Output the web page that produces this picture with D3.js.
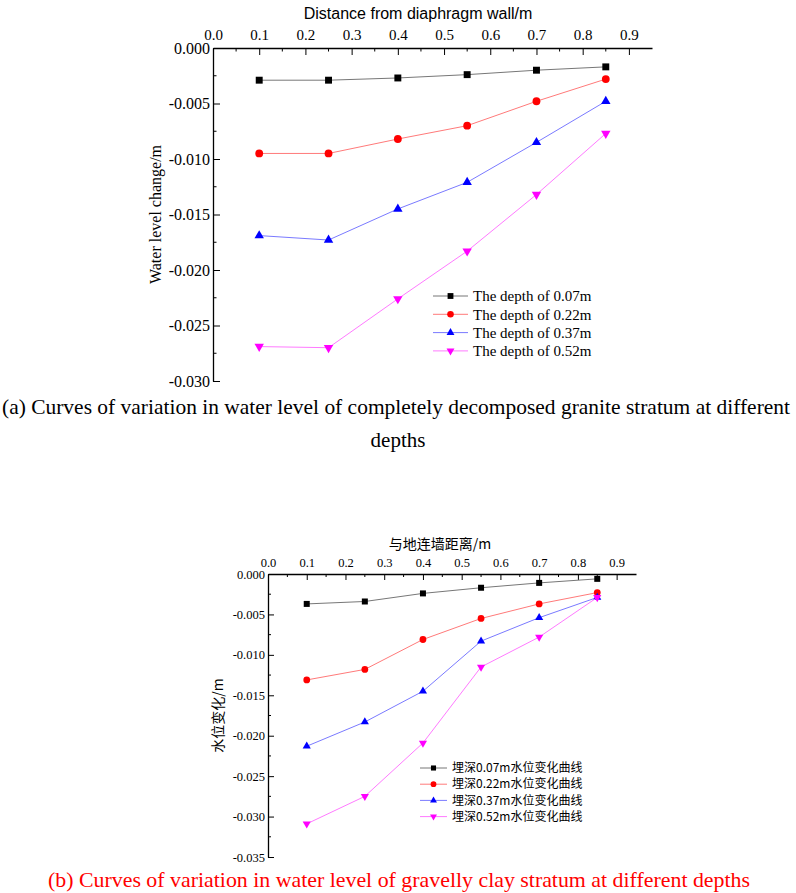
<!DOCTYPE html>
<html>
<head>
<meta charset="utf-8">
<script src="https://cdn.jsdelivr.net/npm/d3@7"></script>
<style>
  body { margin: 0; background: #fff; }
  svg { display: block; }
</style>
</head>
<body>
<div id="chart"></div>
<script>
// distances from the diaphragm wall (m), shared by both panels
const distance = [0.1, 0.25, 0.4, 0.55, 0.7, 0.85];

// (a) completely decomposed granite stratum
const graniteD007 = [-0.0029, -0.0029, -0.0027, -0.0024, -0.0020, -0.0017];
const graniteD022 = [-0.0095, -0.0095, -0.0082, -0.0070, -0.0048, -0.0028];
const graniteD037 = [-0.0169, -0.0173, -0.0145, -0.0121, -0.0085, -0.0048];
const graniteD052 = [-0.0269, -0.0270, -0.0226, -0.0183, -0.0132, -0.0077];
const graniteLegend = ["The depth of 0.07m", "The depth of 0.22m", "The depth of 0.37m", "The depth of 0.52m"];

// (b) gravelly clay stratum
const clayD007 = [-0.0037, -0.0034, -0.0024, -0.0017, -0.0011, -0.0006];
const clayD022 = [-0.0131, -0.0118, -0.0081, -0.0055, -0.0037, -0.0023];
const clayD037 = [-0.0213, -0.0183, -0.0145, -0.0083, -0.0054, -0.0029];
const clayD052 = [-0.0309, -0.0275, -0.0209, -0.0115, -0.0078, -0.0029];
const clayLegend = ["埋深0.07m水位变化曲线", "埋深0.22m水位变化曲线", "埋深0.37m水位变化曲线", "埋深0.52m水位变化曲线"];

const xTicks = [0, 0.1, 0.2, 0.3, 0.4, 0.5, 0.6, 0.7, 0.8, 0.9];
const graniteYTicks = [0, -0.005, -0.01, -0.015, -0.02, -0.025, -0.03];
const clayYTicks = [0, -0.005, -0.01, -0.015, -0.02, -0.025, -0.03, -0.035];

const colors = ["#000000", "#ff0000", "#0000ff", "#ff00ff"];
const lineColors = ["#777777", "#ff7a7a", "#7a7aff", "#ff7aff"];
const shapes = ["square", "circle", "up", "down"];

const serif = "'Liberation Serif', 'Times New Roman', serif";
const sans = "'Liberation Sans', Arial, sans-serif";
const cjk = "'Noto Sans CJK SC', sans-serif";

const svg = d3.select("#chart").append("svg")
    .attr("width", 796)
    .attr("height", 893);

// plain hyphen instead of the unicode minus d3 uses
const fmt3 = d => d3.format(".3f")(d).replace("\u2212", "-");

function marker(shape, size) {
    if (shape === "square") return d3.symbol(d3.symbolSquare, size)();
    if (shape === "circle") return d3.symbol(d3.symbolCircle, size)();
    return d3.symbol(d3.symbolTriangle, size * 0.8)();
}

function drawPanel(p) {
    const x = d3.scaleLinear().domain([0, 0.95]).range([p.left, p.right]);
    const y = d3.scaleLinear().domain([0, p.yMin]).range([p.top, p.bottom]);
    const g = svg.append("g");

    // top x axis, ticks pointing into the plot
    const xAxis = d3.axisTop(x).tickValues(xTicks).tickFormat(d3.format(".1f"))
        .tickSizeInner(-p.tick).tickSizeOuter(0).tickPadding(p.xPad);
    const gx = g.append("g").attr("transform", `translate(0,${p.top})`).call(xAxis);
    gx.selectAll("text").style("font-family", serif).style("font-size", p.tickFont + "px").attr("fill", "#000");
    gx.append("g").selectAll("line")
        .data(d3.range(0.05, 0.95, 0.1))
        .join("line")
        .attr("x1", d => x(d)).attr("x2", d => x(d))
        .attr("y1", 0).attr("y2", p.tick / 2)
        .attr("stroke", "#000");

    // left y axis
    const yAxis = d3.axisLeft(y).tickValues(p.yTicks).tickFormat(fmt3)
        .tickSizeInner(-p.tick).tickSizeOuter(0).tickPadding(3);
    const gy = g.append("g").attr("transform", `translate(${p.left},0)`).call(yAxis);
    gy.selectAll("text").style("font-family", serif).style("font-size", p.yTickFont + "px").attr("fill", "#000");
    gy.append("g").selectAll("line")
        .data(d3.range(-0.0025, p.yMin, -0.005))
        .join("line")
        .attr("y1", d => y(d)).attr("y2", d => y(d))
        .attr("x1", 0).attr("x2", p.tick / 2)
        .attr("stroke", "#000");
    g.selectAll(".domain").attr("stroke", "#000").attr("stroke-width", 1.3);
    g.selectAll(".tick line").attr("stroke", "#000");

    // axis titles
    g.append("text")
        .attr("x", p.xTitleX).attr("y", p.xTitleY)
        .attr("text-anchor", "middle")
        .style("font-family", p.xTitleFamily).style("font-size", p.titleFont + "px")
        .text(p.xTitle);
    g.append("text")
        .attr("transform", `translate(${p.yTitleX},${(p.top + p.bottom) / 2}) rotate(-90)`)
        .attr("text-anchor", "middle")
        .style("font-family", p.yTitleFamily).style("font-size", p.titleFont + "px")
        .text(p.yTitle);

    // series
    const line = d3.line().x(d => x(d[0])).y(d => y(d[1]));
    p.series.forEach((vals, i) => {
        const pts = distance.map((d, j) => [d, vals[j]]);
        g.append("path").datum(pts)
            .attr("d", line)
            .attr("fill", "none")
            .attr("stroke", lineColors[i])
            .attr("stroke-width", 1);
        g.append("g").selectAll("path")
            .data(pts)
            .join("path")
            .attr("d", marker(shapes[i], p.markSize))
            .attr("transform", d => `translate(${x(d[0])},${y(d[1])})` + (shapes[i] === "down" ? " rotate(180)" : ""))
            .attr("fill", colors[i]);
    });

    // legend
    const lg = g.append("g").attr("transform", `translate(${p.legX},${p.legY})`);
    p.legend.forEach((label, i) => {
        const row = lg.append("g").attr("transform", `translate(0,${i * p.legStep})`);
        row.append("line")
            .attr("x1", 0).attr("x2", p.legLine)
            .attr("stroke", lineColors[i]).attr("stroke-width", 1);
        row.append("path")
            .attr("d", marker(shapes[i], p.legMark))
            .attr("transform", `translate(${p.legLine / 2},0)` + (shapes[i] === "down" ? " rotate(180)" : ""))
            .attr("fill", colors[i]);
        row.append("text")
            .attr("x", p.legLine + 5).attr("dy", "0.35em")
            .style("font-family", p.legFamily).style("font-size", p.legFont + "px")
            .text(label);
    });
}

drawPanel({
    left: 213, right: 652, top: 48, bottom: 381, yMin: -0.03,
    yTicks: graniteYTicks, tick: 7, xPad: 8, tickFont: 15, yTickFont: 16, titleFont: 16,
    xTitle: "Distance from diaphragm wall/m", xTitleX: 418, xTitleY: 19, xTitleFamily: sans,
    yTitle: "Water level change/m", yTitleX: 161, yTitleFamily: serif,
    series: [graniteD007, graniteD022, graniteD037, graniteD052],
    markSize: 48, legend: graniteLegend, legX: 433, legY: 296, legStep: 18.3,
    legLine: 35, legMark: 34, legFont: 15, legFamily: serif
});

drawPanel({
    left: 268, right: 636, top: 574, bottom: 857, yMin: -0.035,
    yTicks: clayYTicks, tick: 6, xPad: 7, tickFont: 12.5, yTickFont: 12.5, titleFont: 14,
    xTitle: "与地连墙距离/m", xTitleX: 440, xTitleY: 549, xTitleFamily: cjk,
    yTitle: "水位变化/m", yTitleX: 223, yTitleFamily: cjk,
    series: [clayD007, clayD022, clayD037, clayD052],
    markSize: 36, legend: clayLegend, legX: 420, legY: 768, legStep: 16.2,
    legLine: 27, legMark: 26, legFont: 12, legFamily: cjk
});

// captions
svg.append("text")
    .attr("x", 396).attr("y", 414)
    .attr("text-anchor", "middle")
    .style("font-family", serif).style("font-size", "21px")
    .attr("textLength", 788).attr("lengthAdjust", "spacingAndGlyphs")
    .text("(a) Curves of variation in water level of completely decomposed granite stratum at different");
svg.append("text")
    .attr("x", 398).attr("y", 447)
    .attr("text-anchor", "middle")
    .style("font-family", serif).style("font-size", "21px")
    .text("depths");
svg.append("text")
    .attr("x", 399).attr("y", 887)
    .attr("text-anchor", "middle")
    .style("font-family", serif).style("font-size", "21px")
    .attr("fill", "#ff0000")
    .attr("textLength", 702).attr("lengthAdjust", "spacingAndGlyphs")
    .text("(b) Curves of variation in water level of gravelly clay stratum at different depths");
</script>
</body>
</html>
